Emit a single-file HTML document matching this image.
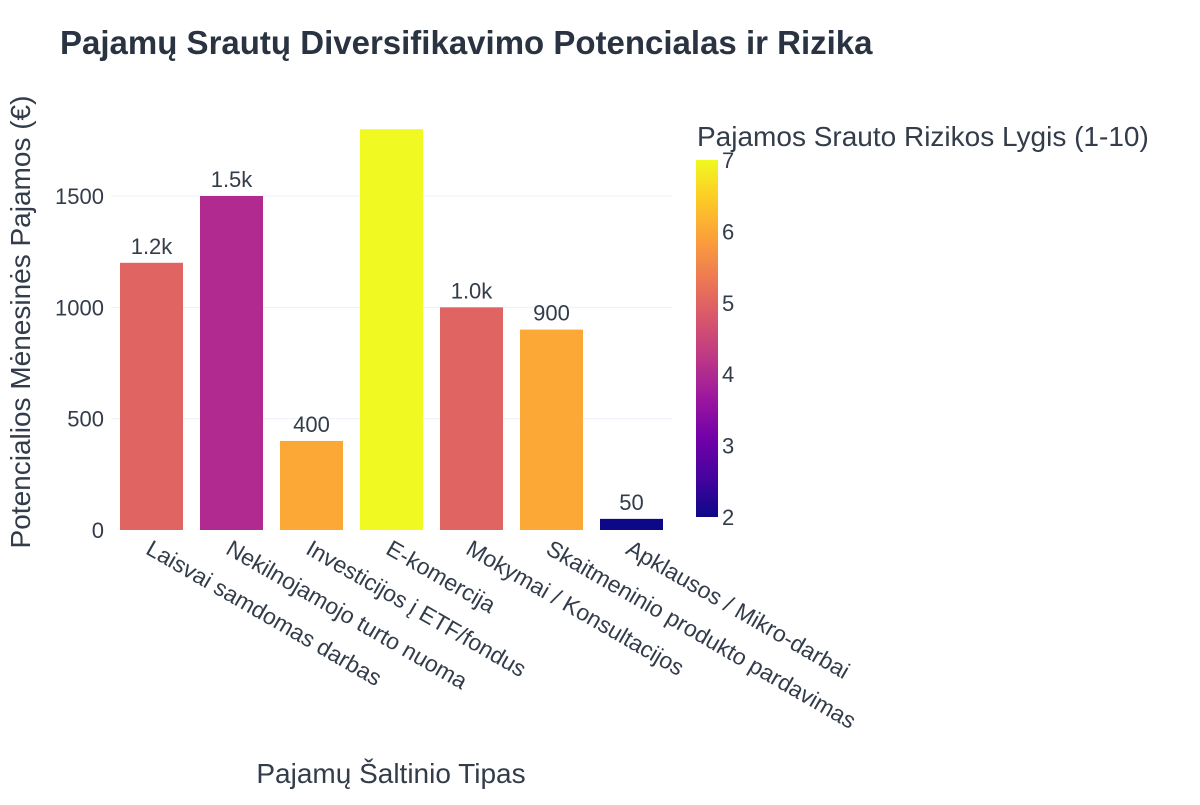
<!DOCTYPE html>
<html><head><meta charset="utf-8"><style>
body{margin:0;background:#fff;}
text{font-family:"Liberation Sans",Arial,sans-serif;fill:#333c4a;}
</style></head><body>
<svg id="chart" width="1200" height="800" xmlns="http://www.w3.org/2000/svg">
<defs>
<linearGradient id="plasma" x1="0" y1="1" x2="0" y2="0">
<stop offset="0" stop-color="#0d0887"/><stop offset="0.111" stop-color="#46039f"/><stop offset="0.222" stop-color="#7201a8"/><stop offset="0.333" stop-color="#9c179e"/><stop offset="0.444" stop-color="#bd3786"/><stop offset="0.556" stop-color="#d8576b"/><stop offset="0.667" stop-color="#ed7953"/><stop offset="0.778" stop-color="#fb9f3a"/><stop offset="0.889" stop-color="#fdca26"/><stop offset="1" stop-color="#f0f921"/>
</linearGradient>
<clipPath id="plotclip"><rect x="111" y="120" width="561" height="420"/></clipPath>
</defs>
<text x="60" y="54" font-size="33" font-weight="bold" style="fill:#2a3342">Pajamų Srautų Diversifikavimo Potencialas ir Rizika</text>
<g id="grid"></g>
<g id="bars" clip-path="url(#plotclip)"></g>
<g id="xlabels"></g>
<g id="ylabels"></g>
<text x="391" y="783" font-size="28" text-anchor="middle">Pajamų Šaltinio Tipas</text>
<text transform="translate(30,322) rotate(-90)" font-size="28" text-anchor="middle">Potencialios Mėnesinės Pajamos (€)</text>
<text x="697" y="146" font-size="28">Pajamos Srauto Rizikos Lygis (1-10)</text>
<rect x="696" y="160" width="22" height="357" fill="url(#plasma)"/>
<g id="cbticks"></g>
</svg>
<script>
const categories=["Laisvai samdomas darbas","Nekilnojamojo turto nuoma","Investicijos į ETF/fondus","E-komercija","Mokymai / Konsultacijos","Skaitmeninio produkto pardavimas","Apklausos / Mikro-darbai"];
const incomes=[1200,1500,400,1800,1000,900,50];
const risks=[5,4,6,7,5,6,2];
const valueLabels=["1.2k","1.5k","400","1.8k","1.0k","900","50"];
const yTicks=[0,500,1000,1500];
const cbTicks=[2,3,4,5,6,7];
const NS="http://www.w3.org/2000/svg";
const x0=111.5,step=80,barW=63;
const y=v=>530-v*(334/1500);
const xc=i=>x0+step*(i+0.5);
const cy=r=>517-(r-2)*(357/5);
const stops=[[0,"#0d0887"],[.111,"#46039f"],[.222,"#7201a8"],[.333,"#9c179e"],[.444,"#bd3786"],[.556,"#d8576b"],[.667,"#ed7953"],[.778,"#fb9f3a"],[.889,"#fdca26"],[1,"#f0f921"]];
function hex(h){return [1,3,5].map(k=>parseInt(h.substr(k,2),16));}
function color(r){const t=Math.max(0,Math.min(1,(r-2)/5));for(let k=1;k<stops.length;k++){if(t<=stops[k][0]){const a=stops[k-1],b=stops[k];const f=(t-a[0])/(b[0]-a[0]);const ca=hex(a[1]),cb=hex(b[1]);return "rgb("+ca.map((c,j)=>Math.round(c+(cb[j]-c)*f)).join(",")+")";}}return stops[9][1];}
function el(tag,attrs,parent,txt){const e=document.createElementNS(NS,tag);for(const k in attrs)e.setAttribute(k,attrs[k]);if(txt!==undefined)e.textContent=txt;document.getElementById(parent).appendChild(e);return e;}
yTicks.forEach(t=>{
 if(t>0){const g=el("line",{x1:111,x2:672,y1:y(t),y2:y(t),stroke:"#ebf0f8","stroke-width":1},"grid");
 
 }
 const l=el("text",{x:104,y:y(t)+8,"font-size":22,"text-anchor":"end"},"ylabels",String(t));
 
 
});
categories.forEach((c,i)=>{
 const b=el("rect",{x:xc(i)-barW/2,y:y(incomes[i]),width:barW,height:y(0)-y(incomes[i]),fill:color(risks[i])},"bars");
 
 
 const v=el("text",{x:xc(i),y:y(incomes[i])-9,"font-size":22,"text-anchor":"middle"},"bars",valueLabels[i]);
 
 
 const l=el("text",{transform:"translate("+(xc(i)-7)+",553) rotate(30)","font-size":23},"xlabels",c);
 
 
});
cbTicks.forEach(t=>{
 const l=el("text",{x:722,y:cy(t)+8,"font-size":22},"cbticks",String(t));
 
 
});
</script>
</body></html>
